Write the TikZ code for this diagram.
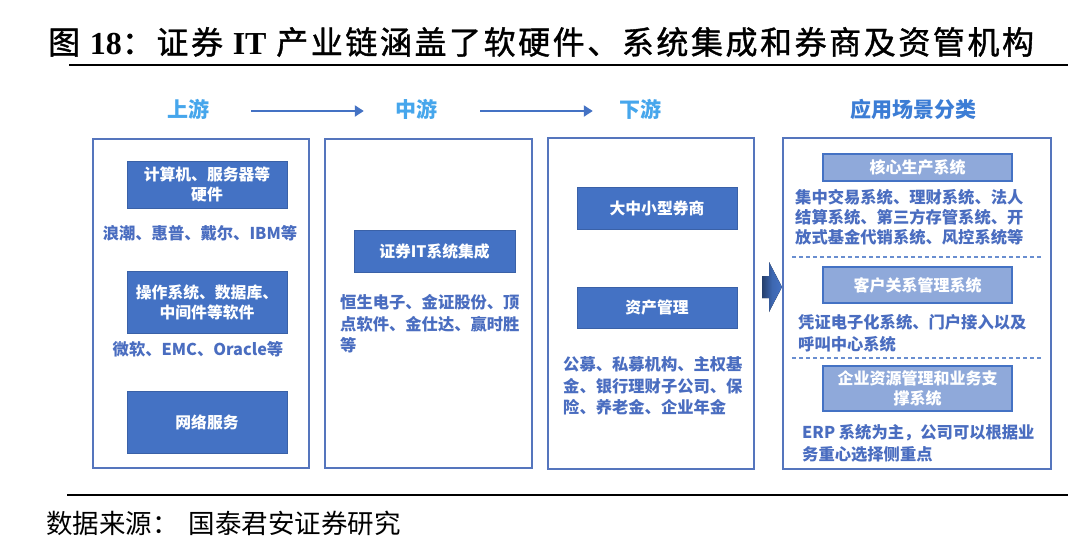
\documentclass[tikz,border=0pt]{standalone}
\usepackage{fontspec}
\setmainfont{Noto Sans CJK SC}
\newfontfamily\titlelatin{Liberation Serif}
\usetikzlibrary{arrows.meta}
\definecolor{oblue}{HTML}{4472C4}
\definecolor{txtblue}{HTML}{4A6DC0}
\definecolor{lightbox}{HTML}{8FA9DA}
\definecolor{hdrlight}{HTML}{46A6EC}
\definecolor{hdrdark}{HTML}{3C7DD5}
\definecolor{framecol}{HTML}{5575BD}
\tikzset{
  outerbox/.style={draw=framecol, line width=2pt, fill=white, inner sep=0pt},
  darkbox/.style={fill=oblue, draw=oblue!85!black, line width=0.8pt, text=white, inner sep=0pt, align=center,
    font=\fontsize{15.8pt}{20pt}\selectfont\bfseries},
  lightbx/.style={fill=lightbox, draw=oblue, line width=1.4pt, text=white, inner sep=0pt, align=center,
    font=\fontsize{16pt}{20pt}\selectfont\bfseries},
  bodytxt/.style={text=txtblue, inner sep=0pt, align=left, font=\fontsize{16.3pt}{21.8pt}\selectfont\bfseries},
  hdr/.style={inner sep=0pt, font=\fontsize{21pt}{24pt}\selectfont\bfseries},
  hdrarrow/.style={draw=oblue, line width=2pt, -{Triangle[length=9pt,width=11pt]}},
  sepline/.style={draw=oblue!80, line width=1.2pt, dash pattern=on 4pt off 3pt},
  rule/.style={draw=black, line width=2pt},
}
\begin{document}
\begin{tikzpicture}[x=1pt,y=-1pt]
\useasboundingbox (0,0) rectangle (1080,539);
\fill[white] (0,0) rectangle (1080,539);

% title
\node[anchor=west, inner sep=0pt, font=\fontsize{32pt}{36pt}\selectfont\addfontfeatures{LetterSpace=8,FakeBold=1.2}] (title) at (48,42)
  {图 {\titlelatin\bfseries 18}：证券 {\titlelatin\bfseries IT} 产业链涵盖了软硬件、系统集成和券商及资管机构};
\coordinate (tl1) at (69,65);
\coordinate (tl2) at (1068,65);
\draw[rule] (tl1) -- (tl2);

% headers
\node[hdr, text=hdrlight] (up) at (188,109) {上游};
\node[hdr, text=hdrlight] (mid) at (416,109) {中游};
\node[hdr, text=hdrlight] (down) at (640,109) {下游};
\node[hdr, text=hdrdark] (app) at (913,109) {应用场景分类};
\draw[hdrarrow] ([xshift=42pt,yshift=-2pt]up.east) -- ([xshift=-31pt,yshift=-2pt]mid.west);
\draw[hdrarrow] ([xshift=43pt,yshift=-2pt]mid.east) -- ([xshift=-26pt,yshift=-2pt]down.west);

% outer boxes
\node[outerbox, minimum width=216pt, minimum height=329pt] (b1) at (201,303.5) {};
\node[outerbox, minimum width=207pt, minimum height=329pt] (b2) at (428.5,303.5) {};
\node[outerbox, minimum width=206pt, minimum height=331pt] (b3) at (651,303.5) {};
\node[outerbox, minimum width=268pt, minimum height=331pt] (b4) at (917,303.5) {};

% upstream
\node[darkbox, minimum width=160pt, minimum height=47pt] (hw) at (207,184.5) {计算机、服务器等\\硬件};
\node[bodytxt] (hwt) at (200,233) {浪潮、惠普、戴尔、IBM等};
\node[darkbox, minimum width=160pt, minimum height=62pt] (sw) at (207,302) {操作系统、数据库、\\中间件等软件};
\node[bodytxt] (swt) at (198,349) {微软、EMC、Oracle等};
\node[darkbox, minimum width=160pt, minimum height=62pt] (net) at (207,422) {网络服务};

% midstream
\node[darkbox, minimum width=161pt, minimum height=42pt] (sec) at (434.5,251) {证券IT系统集成};
\node[bodytxt, anchor=north west] (sect) at (340,294) {恒生电子、金证股份、顶\\点软件、金仕达、赢时胜\\等};

% downstream
\node[darkbox, minimum width=160pt, minimum height=42pt] (brk) at (657,208) {大中小型券商};
\node[darkbox, minimum width=160pt, minimum height=41pt] (am) at (657,307.5) {资产管理};
\node[bodytxt, anchor=north west] (amt) at (563,356) {公募、私募机构、主权基\\金、银行理财子公司、保\\险、养老金、企业年金};

% application
\node[lightbx, minimum width=189pt, minimum height=27pt] (core) at (917.5,167.5) {核心生产系统};
\node[bodytxt, anchor=north west, font=\fontsize{16.3pt}{20pt}\selectfont\bfseries] (coret) at (795,189.5)
  {集中交易系统、理财系统、法人\\结算系统、第三方存管系统、开\\放式基金代销系统、风控系统等};
\coordinate (d1a) at (792,257);
\coordinate (d1b) at (1042,257);
\draw[sepline] (d1a) -- (d1b);
\node[lightbx, minimum width=189pt, minimum height=36pt] (crm) at (917.5,285) {客户关系管理系统};
\node[bodytxt, anchor=north west] (crmt) at (798,314) {凭证电子化系统、门户接入以及\\呼叫中心系统};
\coordinate (d2a) at (792,358);
\coordinate (d2b) at (1042,358);
\draw[sepline] (d2a) -- (d2b);
\node[lightbx, minimum width=189pt, minimum height=45pt] (erp) at (917.5,388.5) {企业资源管理和业务支\\撑系统};
\node[bodytxt, anchor=north west] (erpt) at (802,424) {ERP 系统为主，公司可以根据业\\务重心选择侧重点};

% block arrow
\fill[left color=oblue!55!black, right color=oblue, middle color=oblue!90!black]
  (762,276) -- (769,276) -- (769,262) -- (782,287) -- (769,312) -- (769,298) -- (762,298) -- cycle;

% bottom rule and source
\coordinate (bl1) at (67,495);
\coordinate (bl2) at (1068,495);
\draw[rule] (bl1) -- (bl2);
\node[anchor=west, inner sep=0pt, font=\fontsize{26.5pt}{30pt}\selectfont] (src) at (46,523) {数据来源：\hspace{10pt}国泰君安证券研究};
\end{tikzpicture}
\end{document}
